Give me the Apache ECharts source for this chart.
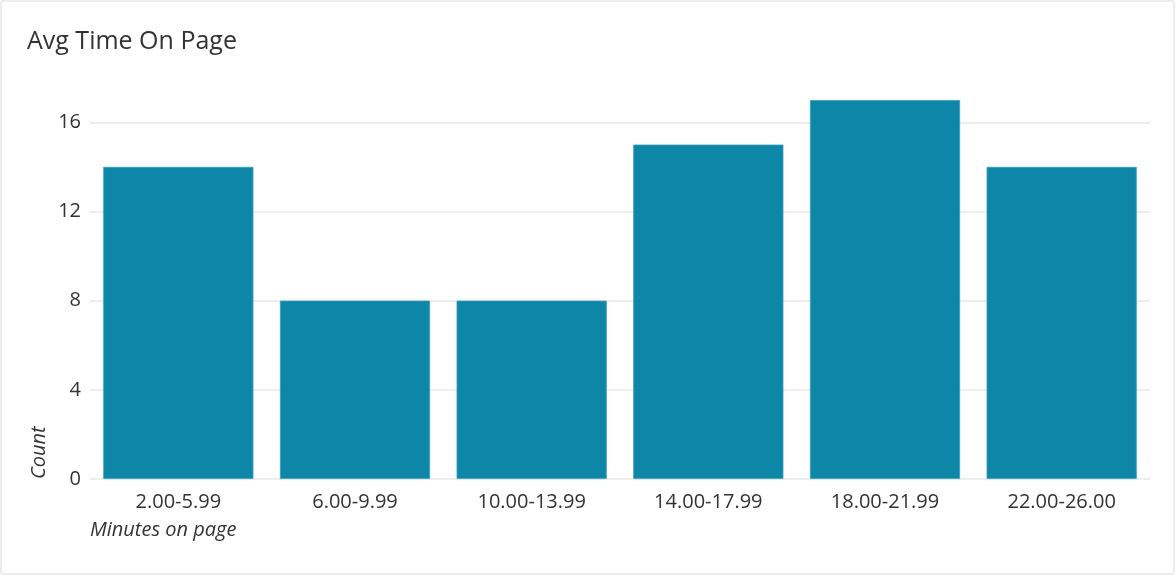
<!DOCTYPE html>
<html>
<head>
<meta charset="utf-8">
<script src="https://cdn.jsdelivr.net/npm/echarts@6/dist/echarts.min.js"></script>
<style>
html,body{margin:0;padding:0;background:#fff;}
#wrap{position:relative;width:1175px;height:575px;}
#chart{position:absolute;left:0;top:0;width:1175px;height:575px;}
#frame{position:absolute;left:0;top:0;width:1175px;height:575px;box-sizing:border-box;border:2px solid #ededed;border-radius:3px;pointer-events:none;}
</style>
</head>
<body>
<div id="wrap"><div id="chart"></div><div id="frame"></div></div>
<script>
const categories = ['2.00-5.99', '6.00-9.99', '10.00-13.99', '14.00-17.99', '18.00-21.99', '22.00-26.00'];
const counts = [14, 8, 8, 15, 17, 14];
const titleText = 'Avg Time On Page';
const xName = 'Minutes on page';
const yName = 'Count';

const FONT = '"Open Sans", "Noto Sans", sans-serif';
const chart = echarts.init(document.getElementById('chart'), null, {renderer: 'canvas'});
chart.setOption({
  animation: false,
  title: {
    text: titleText, left: 22, top: 24,
    textStyle: {fontFamily: FONT, fontSize: 25, fontWeight: 'normal', color: '#333'}
  },
  grid: {left: 90, right: 25, top: 100, bottom: 96, containLabel: false},
  xAxis: {
    type: 'category', data: categories,
    axisLine: {show: false}, axisTick: {show: false},
    axisLabel: {fontFamily: FONT, fontSize: 20, color: '#333', margin: 13}
  },
  yAxis: {
    type: 'value', min: 0, max: 17, interval: 4,
    axisLine: {show: false}, axisTick: {show: false},
    axisLabel: {fontFamily: FONT, fontSize: 20, color: '#333', margin: 9, showMaxLabel: false},
    splitLine: {show: true, showMaxLine: false, lineStyle: {color: '#eeeeee', width: 2}}
  },
  graphic: [
    {type: 'text', left: 90, top: 520, style: {text: xName, font: 'italic 20px ' + FONT, fill: '#333'}},
    {type: 'text', x: 29, y: 479, rotation: Math.PI / 2, style: {text: yName, font: 'italic 20px ' + FONT, fill: '#333', textAlign: 'left', textVerticalAlign: 'top'}}
  ],
  series: [{
    type: 'bar', data: counts, barCategoryGap: '15%',
    itemStyle: {color: '#0e86a8', borderColor: '#3a9fbc', borderWidth: 0.8}
  }]
});
</script>
</body>
</html>
